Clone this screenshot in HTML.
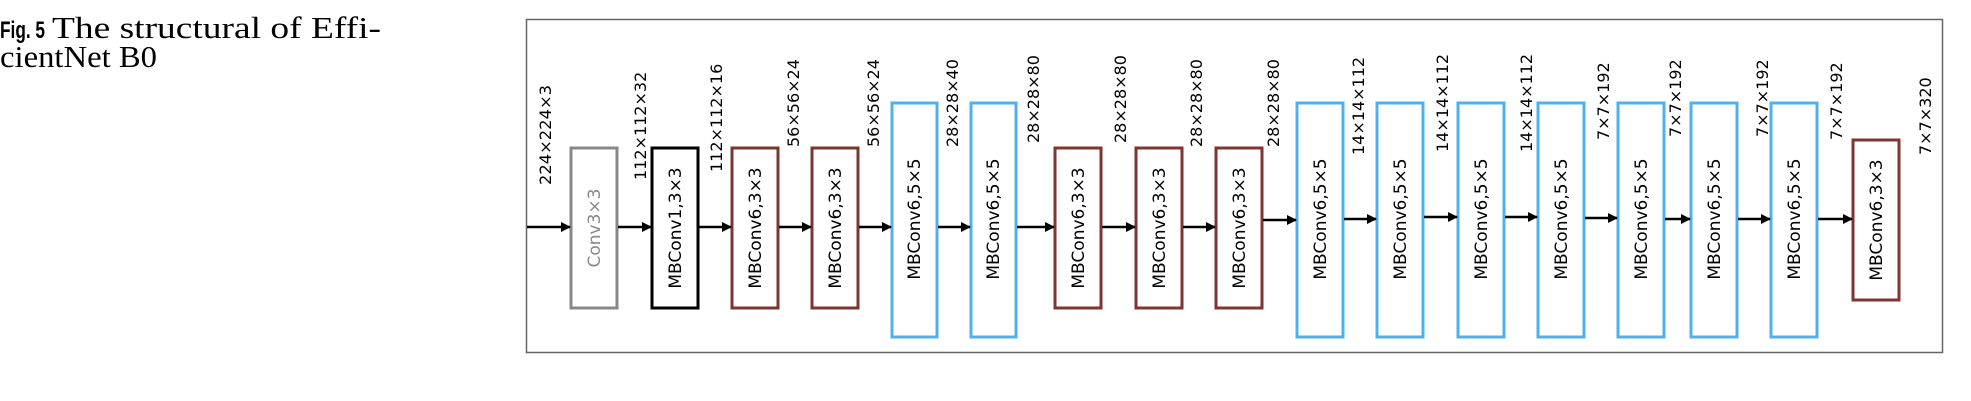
<!DOCTYPE html>
<html><head><meta charset="utf-8"><style>html,body{margin:0;padding:0;background:#fff}svg{display:block}</style></head>
<body>
<svg width="1971" height="401" viewBox="0 0 1971 401" xmlns="http://www.w3.org/2000/svg">
<defs><marker id="a" markerWidth="10" markerHeight="10" refX="9" refY="5" orient="auto" markerUnits="userSpaceOnUse"><path d="M0,0 L10,5 L0,10 Z" fill="#000"/></marker></defs>
<text x="0" y="38" font-family="Liberation Sans, sans-serif" font-weight="bold" font-size="24" textLength="45" lengthAdjust="spacingAndGlyphs">Fig. 5</text>
<text x="52" y="38" font-family="Liberation Serif, serif" font-size="31" textLength="329" lengthAdjust="spacingAndGlyphs">The structural of Effi-</text>
<text x="0" y="67" font-family="Liberation Serif, serif" font-size="31" textLength="157" lengthAdjust="spacingAndGlyphs">cientNet B0</text>
<rect x="526.5" y="19.5" width="1416" height="333" fill="none" stroke="#666" stroke-width="1.5"/>
<g fill="none" stroke-width="3">
<rect x="571" y="148" width="46" height="160" stroke="#888"/>
<rect x="652" y="148" width="46" height="160" stroke="#000"/>
<rect x="732" y="148" width="46" height="160" stroke="#7f3630"/>
<rect x="812" y="148" width="46" height="160" stroke="#7f3630"/>
<rect x="892" y="103" width="45" height="234" stroke="#4fb0ec"/>
<rect x="971" y="103" width="45" height="234" stroke="#4fb0ec"/>
<rect x="1055" y="148" width="46" height="160" stroke="#7f3630"/>
<rect x="1136" y="148" width="46" height="160" stroke="#7f3630"/>
<rect x="1216" y="148" width="46" height="160" stroke="#7f3630"/>
<rect x="1297" y="103" width="46" height="234" stroke="#4fb0ec"/>
<rect x="1377" y="103" width="46" height="234" stroke="#4fb0ec"/>
<rect x="1458" y="103" width="46" height="234" stroke="#4fb0ec"/>
<rect x="1538" y="103" width="46" height="234" stroke="#4fb0ec"/>
<rect x="1618" y="103" width="46" height="234" stroke="#4fb0ec"/>
<rect x="1691" y="103" width="46" height="234" stroke="#4fb0ec"/>
<rect x="1771" y="103" width="46" height="234" stroke="#4fb0ec"/>
<rect x="1853" y="140" width="46" height="160" stroke="#7f3630"/>
</g>
<g stroke="#000" stroke-width="2.5" marker-end="url(#a)">
<line x1="527" y1="227" x2="570" y2="227"/>
<line x1="618" y1="227" x2="651" y2="227"/>
<line x1="699" y1="227" x2="731" y2="227"/>
<line x1="779" y1="227" x2="811" y2="227"/>
<line x1="859" y1="227" x2="891" y2="227"/>
<line x1="938" y1="227" x2="970" y2="227"/>
<line x1="1017" y1="227" x2="1054" y2="227"/>
<line x1="1102" y1="227" x2="1135" y2="227"/>
<line x1="1183" y1="227" x2="1215" y2="227"/>
<line x1="1263" y1="220" x2="1296" y2="220"/>
<line x1="1344" y1="219" x2="1376" y2="219"/>
<line x1="1424" y1="217" x2="1457" y2="217"/>
<line x1="1505" y1="217" x2="1537" y2="217"/>
<line x1="1585" y1="218" x2="1617" y2="218"/>
<line x1="1665" y1="219" x2="1690" y2="219"/>
<line x1="1738" y1="219" x2="1770" y2="219"/>
<line x1="1818" y1="219" x2="1852" y2="219"/>
</g>
<g font-family="DejaVu Sans, sans-serif" font-size="16" fill="#000">
<text transform="translate(551,185) rotate(-90)" textLength="100" lengthAdjust="spacingAndGlyphs">224×224×3</text>
<text transform="translate(646,180) rotate(-90)">112×112×32</text>
<text transform="translate(722,172) rotate(-90)">112×112×16</text>
<text transform="translate(799,147) rotate(-90)">56×56×24</text>
<text transform="translate(879,147) rotate(-90)">56×56×24</text>
<text transform="translate(958,147) rotate(-90)">28×28×40</text>
<text transform="translate(1039,143) rotate(-90)">28×28×80</text>
<text transform="translate(1126,143) rotate(-90)">28×28×80</text>
<text transform="translate(1202,147) rotate(-90)">28×28×80</text>
<text transform="translate(1279,147) rotate(-90)">28×28×80</text>
<text transform="translate(1364,155) rotate(-90)">14×14×112</text>
<text transform="translate(1448,152) rotate(-90)">14×14×112</text>
<text transform="translate(1532,152) rotate(-90)">14×14×112</text>
<text transform="translate(1609,140) rotate(-90)">7×7×192</text>
<text transform="translate(1681,137) rotate(-90)">7×7×192</text>
<text transform="translate(1768,137) rotate(-90)">7×7×192</text>
<text transform="translate(1842,140) rotate(-90)">7×7×192</text>
<text transform="translate(1931,155) rotate(-90)">7×7×320</text>
</g>
<g font-family="DejaVu Sans, sans-serif" font-size="17" text-anchor="middle">
<text transform="translate(600,228) rotate(-90)" fill="#888">Conv3×3</text>
<text transform="translate(681,228) rotate(-90)">MBConv1,3×3</text>
<text transform="translate(761,228) rotate(-90)">MBConv6,3×3</text>
<text transform="translate(841,228) rotate(-90)">MBConv6,3×3</text>
<text transform="translate(920,219) rotate(-90)">MBConv6,5×5</text>
<text transform="translate(999,219) rotate(-90)">MBConv6,5×5</text>
<text transform="translate(1084,228) rotate(-90)">MBConv6,3×3</text>
<text transform="translate(1165,228) rotate(-90)">MBConv6,3×3</text>
<text transform="translate(1245,228) rotate(-90)">MBConv6,3×3</text>
<text transform="translate(1326,219) rotate(-90)">MBConv6,5×5</text>
<text transform="translate(1406,219) rotate(-90)">MBConv6,5×5</text>
<text transform="translate(1487,219) rotate(-90)">MBConv6,5×5</text>
<text transform="translate(1567,219) rotate(-90)">MBConv6,5×5</text>
<text transform="translate(1647,219) rotate(-90)">MBConv6,5×5</text>
<text transform="translate(1720,219) rotate(-90)">MBConv6,5×5</text>
<text transform="translate(1800,219) rotate(-90)">MBConv6,5×5</text>
<text transform="translate(1882,220) rotate(-90)">MBConv6,3×3</text>
</g>
</svg>
</body></html>
